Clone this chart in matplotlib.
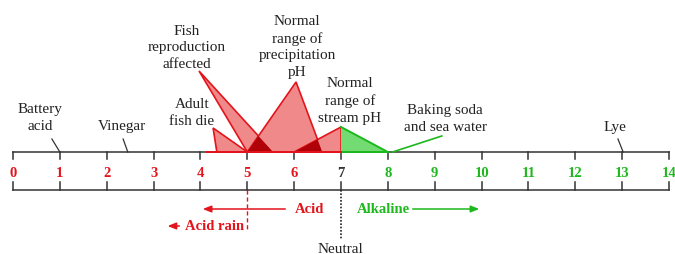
"""pH scale diagram: acid rain, fish and everyday substances."""
import matplotlib
matplotlib.use("Agg")
import matplotlib.pyplot as plt
from matplotlib.patches import Polygon

RED, DARKRED, PINK = "#e3141c", "#b00008", "#f08a8a"
GREEN, LIGHTGREEN = "#1cb81c", "#72dc72"
INK = "#333333"

# pH scale
ticks = list(range(15))
tick_colors = [RED] * 7 + [INK] + [GREEN] * 7

# triangles: (left base pH, right base pH, apex pH, apex height)
adult_fish = (4.35, 5.0, 4.27, 24)
fish_repro = (5.0, 5.55, 3.97, 81)
precip = (5.0, 6.6, 6.04, 70)
stream = (6.0, 8.0, 7.0, 25)

# labels: text, pH, height, pointer line (pH0, h0, pH1, h1) or None
labels = [
    ("Battery\nacid", 0.58, 35, (0.83, 13, 1.0, 0)),
    ("Vinegar", 2.33, 26, (2.35, 13, 2.45, 0)),
    ("Adult\nfish die", 3.82, 40, None),
    ("Fish\nreproduction\naffected", 3.71, 105, None),
    ("Normal\nrange of\nprecipitation\npH", 6.06, 106, None),
    ("Normal\nrange of\nstream pH", 7.19, 52, None),
    ("Baking soda\nand sea water", 9.22, 34, None),
    ("Lye", 12.85, 25, (12.91, 13, 13.02, 0)),
]


def tri(t):
    l, r, ax_, h = t
    return [(l, 0), (ax_, h), (r, 0)]


fig = plt.figure(figsize=(6.75, 2.55), dpi=100)
ax = fig.add_axes([0, 0, 1, 1])
ax.set_xlim(-13 / 46.86, (675 - 13) / 46.86)
ax.set_ylim(-102, 153)
ax.axis("off")

serif = "Liberation Serif"

# triangles
patches = {}
for name, t in [("adult", adult_fish), ("repro", fish_repro), ("precip", precip)]:
    p = Polygon(tri(t), closed=True, facecolor=PINK, edgecolor=RED, lw=1.2, zorder=2)
    ax.add_patch(p)
    patches[name] = p

# stream triangle: red half (acid side), green half (alkaline side)
l, r, apx, h = stream
red_half = Polygon([(l, 0), (apx, h), (apx, 0)], closed=True, facecolor=PINK,
                   edgecolor=RED, lw=1.2, zorder=2)
green_half = Polygon([(apx, 0), (apx, h), (r, 0)], closed=True, facecolor=LIGHTGREEN,
                     edgecolor="none", zorder=2)
ax.add_patch(red_half)
ax.add_patch(green_half)
ax.plot([apx, r], [h, 0], color=GREEN, lw=1.4, zorder=3)
ax.plot([apx, r], [0, 0], color=GREEN, lw=1.4, zorder=3)

# overlaps drawn dark
for a, b in [(patches["repro"], tri(precip)), (patches["precip"], tri(stream))]:
    ov = Polygon(b, closed=True, facecolor=DARKRED, edgecolor="none", zorder=2.5)
    ax.add_patch(ov)
    ov.set_clip_path(a)

ax.plot([4.15, 7.0], [0, 0], color=RED, lw=1.4, zorder=3)

# scale frame
ax.plot([0, 14], [0, 0], color=INK, lw=1.1, zorder=1)
ax.plot([0, 14], [-38, -38], color=INK, lw=1.1, zorder=1)
for t, c in zip(ticks, tick_colors):
    ax.plot([t, t], [0, -7], color=INK, lw=1.1, zorder=1)
    ax.plot([t, t], [-38, -30], color=INK, lw=1.1, zorder=1)
    ax.text(t, -21, str(t), color=c, ha="center", va="center",
            fontsize=10.5, fontweight="bold", family=serif)

# labels
for txt, x, y, ptr in labels:
    ax.text(x, y, txt, ha="center", va="center", fontsize=11, family=serif,
            color="#222222", linespacing=1.35)
    if ptr:
        ax.plot([ptr[0], ptr[2]], [ptr[1], ptr[3]], color=INK, lw=0.9)
ax.plot([8.1, 9.15], [0, 16], color=GREEN, lw=1.2)

# acid / alkaline arrows
arrow = dict(arrowstyle="-|>,head_length=0.5,head_width=0.2", lw=1.1)
ax.annotate("", xy=(3.99, -57), xytext=(5.87, -57),
            arrowprops=dict(arrow, color=RED))
ax.text(6.32, -57, "Acid", color=RED, ha="center", va="center",
        fontsize=10.5, fontweight="bold", family=serif)
ax.annotate("", xy=(3.24, -74), xytext=(3.61, -74),
            arrowprops=dict(arrow, color=RED))
ax.text(4.31, -74, "Acid rain", color=RED, ha="center", va="center",
        fontsize=10.5, fontweight="bold", family=serif)
ax.annotate("", xy=(10.01, -57), xytext=(8.47, -57),
            arrowprops=dict(arrow, color=GREEN))
ax.text(7.9, -57, "Alkaline", color=GREEN, ha="center", va="center",
        fontsize=10.5, fontweight="bold", family=serif)

ax.plot([5, 5], [-38, -79], color=RED, lw=1.0, ls=(0, (3, 2)))
ax.plot([7, 7], [-38, -87], color="#222222", lw=1.2, ls=(0, (1, 1)))
ax.text(6.98, -97, "Neutral", ha="center", va="center", fontsize=11,
        family=serif, color="#222222")

fig.savefig("out.png", dpi=100)
